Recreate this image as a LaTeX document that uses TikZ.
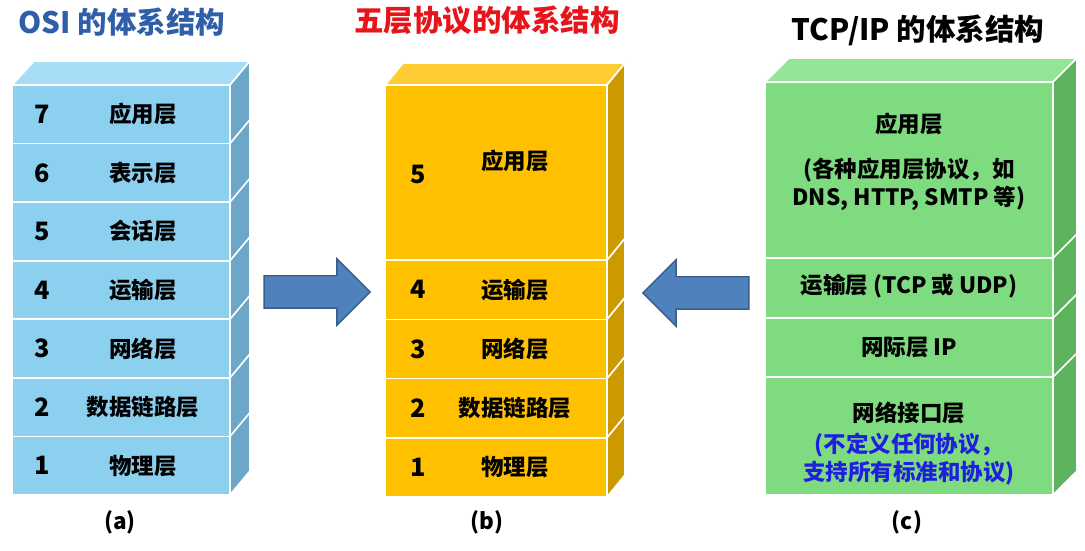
\documentclass[tikz,border=0pt]{standalone}
\usepackage{fontspec}
\setmainfont{Noto Sans CJK SC}
\usetikzlibrary{positioning,shapes.arrows,calc}

\definecolor{osiblue}{RGB}{140,208,240}
\definecolor{ositop}{RGB}{165,220,246}
\definecolor{osiside}{RGB}{108,166,200}
\definecolor{fiveyellow}{RGB}{255,192,0}
\definecolor{fivetop}{RGB}{255,204,51}
\definecolor{fiveside}{RGB}{204,153,0}
\definecolor{tcpgreen}{RGB}{127,219,127}
\definecolor{tcptop}{RGB}{150,229,150}
\definecolor{tcpside}{RGB}{94,179,94}
\definecolor{arrowblue}{RGB}{79,129,189}
\definecolor{arrowedge}{RGB}{56,93,138}
\definecolor{titleblue}{RGB}{47,95,168}
\definecolor{titlered}{RGB}{232,20,27}
\definecolor{noteblue}{RGB}{31,31,224}

\begin{document}
\begin{tikzpicture}[
    font=\bfseries,
    layer/.style={draw=white, line width=1.2pt, outer sep=0pt, inner sep=0pt},
    osi/.style={layer, fill=osiblue, minimum width=5.45cm, minimum height=1.4643cm},
    five/.style={layer, fill=fiveyellow, minimum width=5.55cm, minimum height=1.48cm},
    tcp/.style={layer, fill=tcpgreen, minimum width=7.2cm},
    face/.style={draw=white, line width=1.2pt, line join=round},
    num/.style={font=\fontsize{18}{20}\selectfont\bfseries},
    txt/.style={font=\fontsize{16}{20}\selectfont\bfseries, align=center},
    title/.style={font=\fontsize{21}{24}\selectfont\bfseries},
    sub/.style={font=\fontsize{16}{20}\selectfont\bfseries},
    bigarrow/.style={single arrow, fill=arrowblue, draw=arrowedge, line width=1pt,
      minimum height=2.65cm, inner xsep=0pt, inner ysep=0.3875cm,
      single arrow head extend=0.425cm}
  ]
  \useasboundingbox (0,0) rectangle (27.125,13.775);

  % (a) OSI
  \node[title, text=titleblue] (osititle) at (3.05,13.225) {OSI 的体系结构};
  \node[osi] (a7) at (3.025,10.918) {};
  \node[num] (a7-num) at ([xshift=0.75cm]a7.west) {7};
  \node[txt] (a7-txt) at ([xshift=0.55cm]a7.center) {应用层};
  \foreach \n/\t [evaluate=\n as \m using int(\n+1)] in
      {6/表示层,5/会话层,4/运输层,3/网络层,2/数据链路层,1/物理层} {
    \node[osi, below=0pt of a\m] (a\n) {};
    \node[num] (a\n-num) at ([xshift=0.75cm]a\n.west) {\n};
    \node[txt] (a\n-txt) at ([xshift=0.55cm]a\n.center) {\t};
  }
  \filldraw[face, fill=ositop] (a7.north west) -- ++(0.55,0.6)
    -- ($(a7.north east)+(0.5,0.6)$) -- (a7.north east) -- cycle;
  \filldraw[face, fill=osiside] (a7.north east) -- ++(0.5,0.6)
    -- ($(a1.south east)+(0.5,0.6)$) -- (a1.south east) -- cycle;
  \foreach \n in {7,...,2}
    \draw[face] (a\n.south east) -- ++(0.5,0.6);
  \node[sub] (osisub) at (3.0,0.725) {(a)};

  % (b) five layers
  \node[title, text=titlered] (fivetitle) at (12.175,13.275) {五层协议的体系结构};
  \node[five, minimum height=4.38cm] (b5) at (12.4,9.46) {};
  \node[num] (b5-num) at ([xshift=0.825cm,yshift=-0.06cm]b5.west) {5};
  \node[txt] (b5-txt) at ([xshift=0.48cm,yshift=0.3cm]b5.center) {应用层};
  \foreach \n/\t [evaluate=\n as \m using int(\n+1)] in
      {4/运输层,3/网络层,2/数据链路层,1/物理层} {
    \node[five, below=0pt of b\m] (b\n) {};
    \node[num] (b\n-num) at ([xshift=0.825cm]b\n.west) {\n};
    \node[txt] (b\n-txt) at ([xshift=0.48cm]b\n.center) {\t};
  }
  \filldraw[face, fill=fivetop] (b5.north west) -- ++(0.45,0.55)
    -- ($(b5.north east)+(0.45,0.55)$) -- (b5.north east) -- cycle;
  \filldraw[face, fill=fiveside] (b5.north east) -- ++(0.45,0.55)
    -- ($(b1.south east)+(0.45,0.55)$) -- (b1.south east) -- cycle;
  \foreach \n in {5,...,2}
    \draw[face] (b\n.south east) -- ++(0.45,0.55);
  \node[sub] (fivesub) at (12.175,0.725) {(b)};

  % (c) TCP/IP
  \node[title] (tcptitle) at (22.95,13.025) {TCP/IP 的体系结构};
  \node[tcp, minimum height=4.4cm] (c4) at (22.725,9.525) {};
  \node[tcp, minimum height=1.5cm, below=0pt of c4] (c3) {};
  \node[tcp, minimum height=1.475cm, below=0pt of c3] (c2) {};
  \node[tcp, minimum height=2.95cm, below=0pt of c2] (c1) {};
  \node[txt] (c4-txt) at ([yshift=0.2cm]c4.center)
    {应用层\\[0.42cm](各种应用层协议，如\\DNS, HTTP, SMTP 等)};
  \node[txt] (c3-txt) at ([yshift=0.05cm]c3.center) {运输层 (TCP 或 UDP)};
  \node[txt] (c2-txt) at (c2.center) {网际层 IP};
  \node[txt] (c1-txt) at ([yshift=-0.2cm]c1.center)
    {网络接口层\\[2pt]\textcolor{noteblue}{(不定义任何协议，}\\
     \textcolor{noteblue}{支持所有标准和协议)}};
  \filldraw[face, fill=tcptop] (c4.north west) -- ++(0.6,0.6)
    -- ($(c4.north east)+(0.6,0.6)$) -- (c4.north east) -- cycle;
  \filldraw[face, fill=tcpside] (c4.north east) -- ++(0.6,0.6)
    -- ($(c1.south east)+(0.6,0.6)$) -- (c1.south east) -- cycle;
  \foreach \n in {4,...,2}
    \draw[face] (c\n.south east) -- ++(0.6,0.6);
  \node[sub] (tcpsub) at (22.675,0.725) {(c)};

  % arrows
  \node[bigarrow] (toright) at (7.725,6.475) {};
  \node[bigarrow, shape border rotate=180] (toleft) at (17.6,6.45) {};
\end{tikzpicture}
\end{document}
